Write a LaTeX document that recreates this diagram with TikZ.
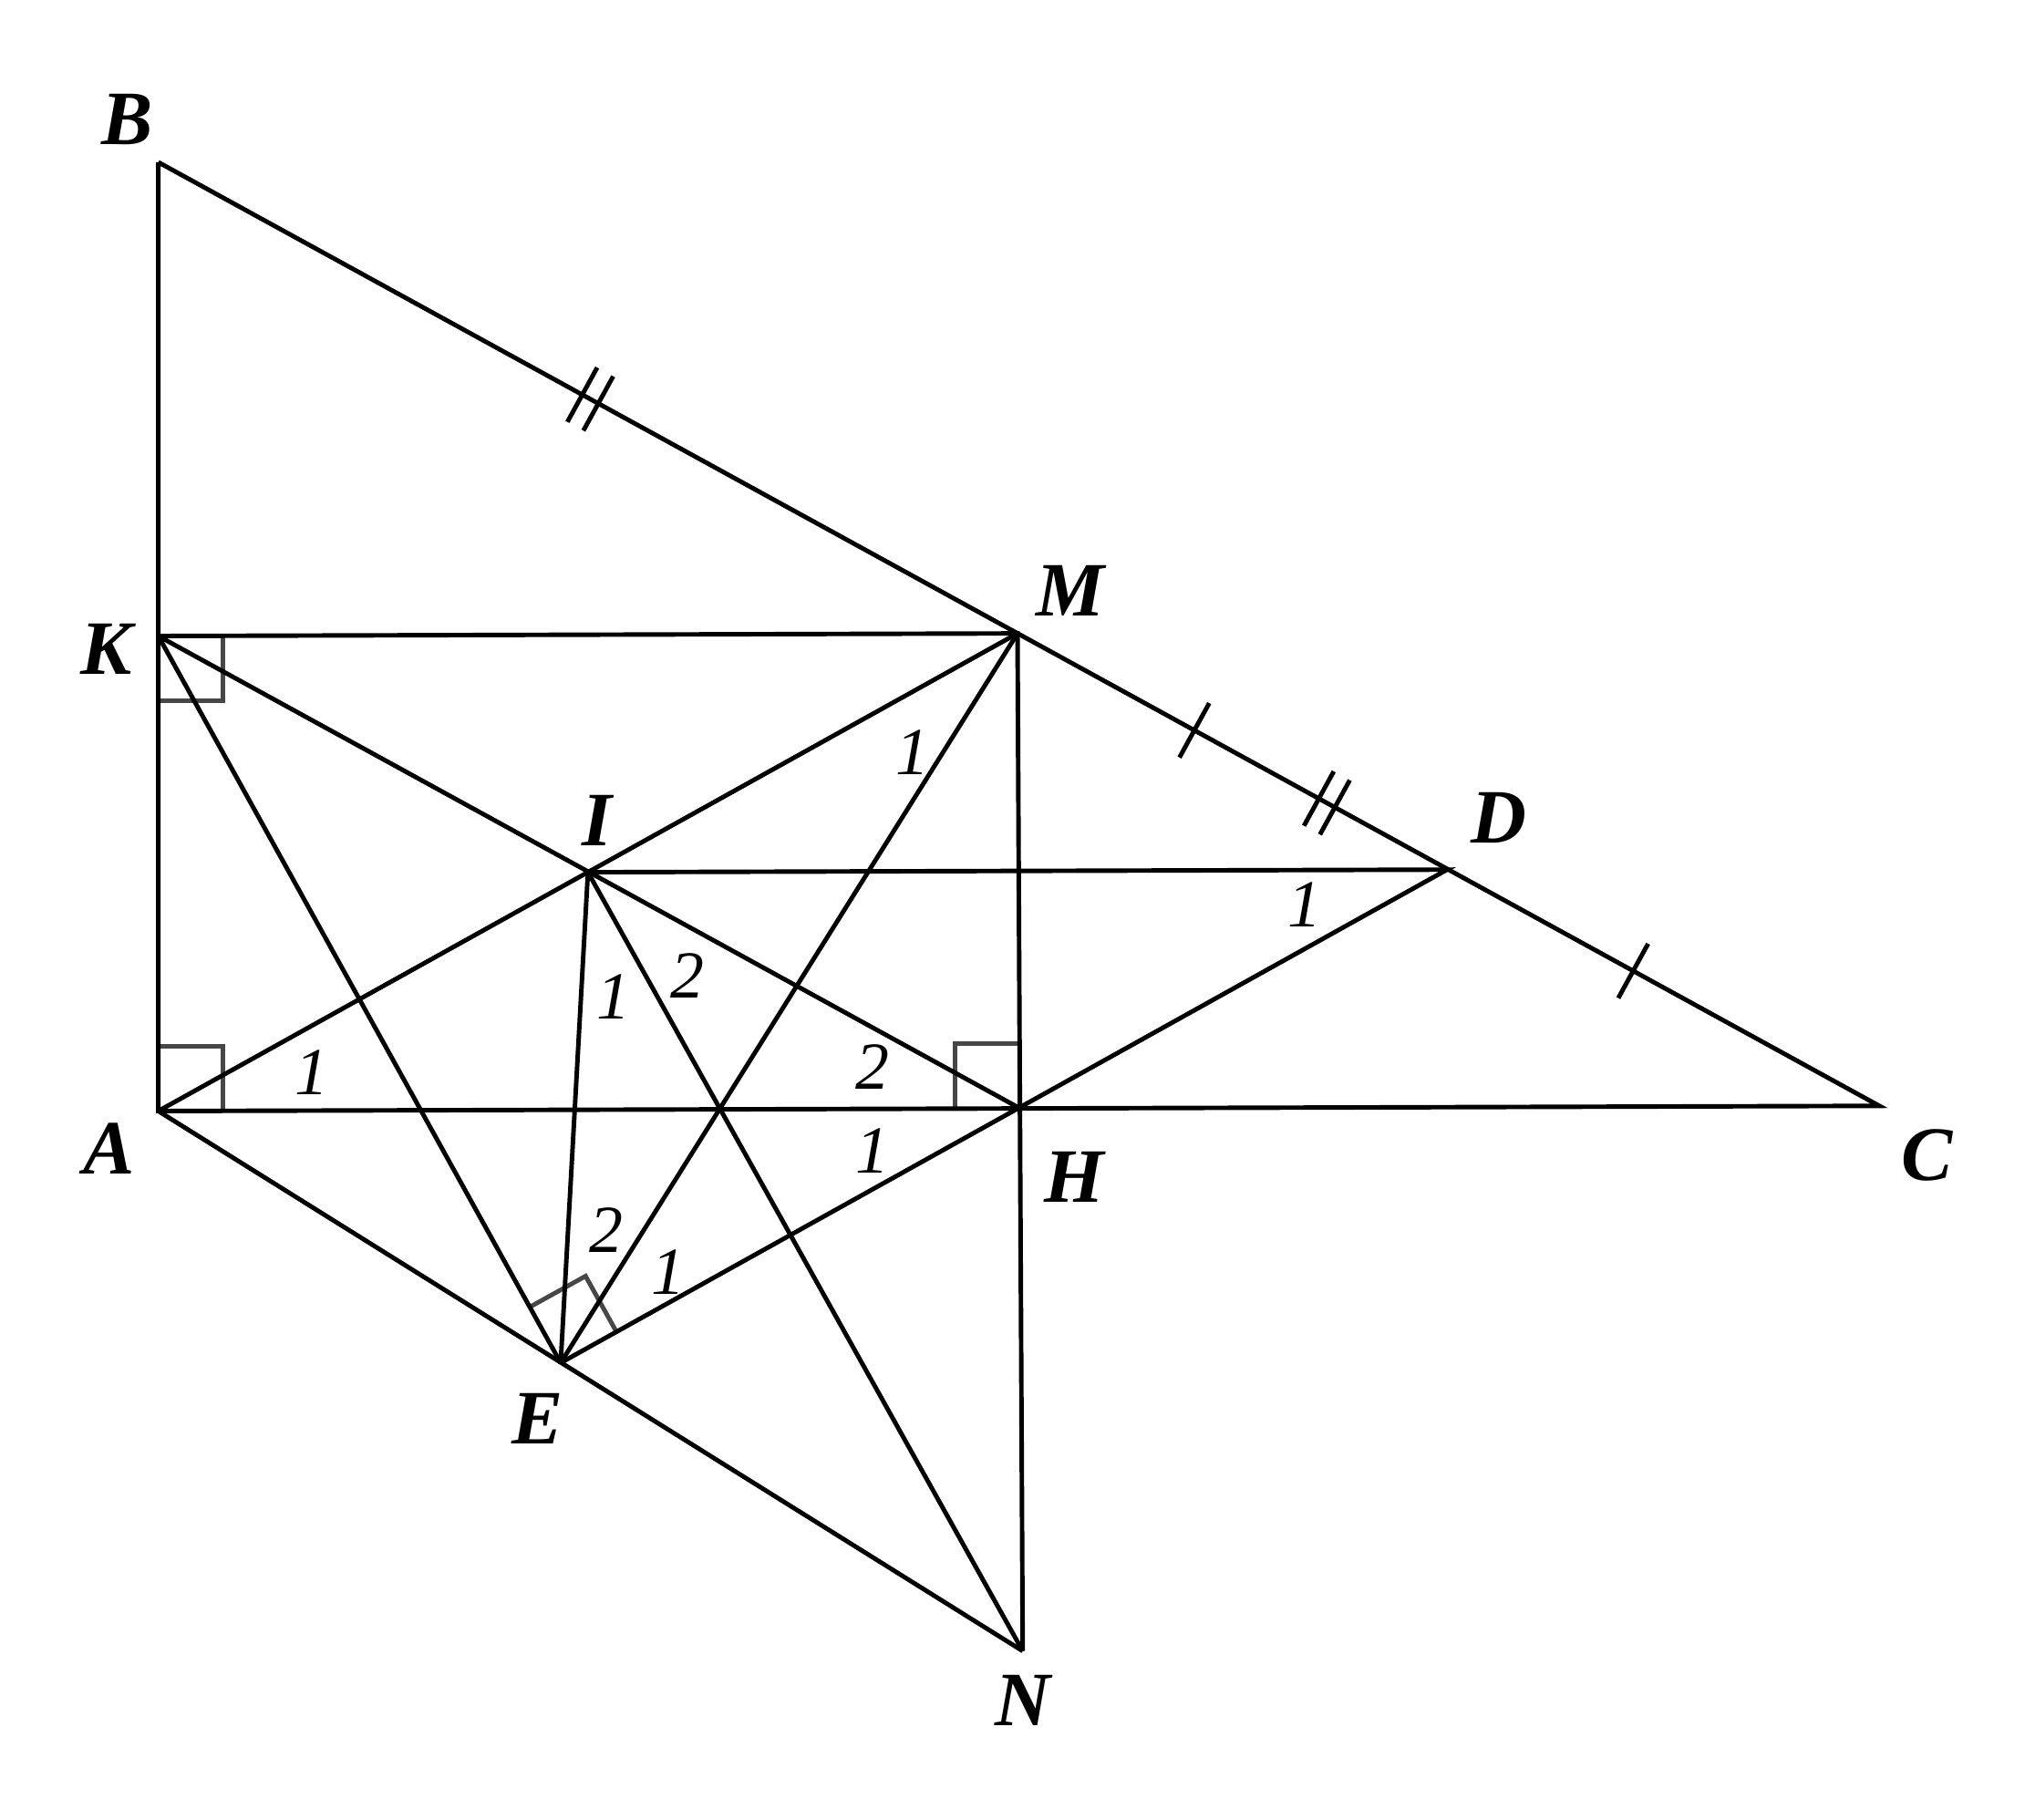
\documentclass[tikz,border=0pt]{standalone}
\usepackage{fontspec}
\setmainfont{Liberation Serif}
\usetikzlibrary{calc}

\tikzset{
  ptlabel/.style={font=\fontsize{24}{24}\selectfont\bfseries\itshape, inner sep=0pt},
  anglabel/.style={font=\fontsize{21}{21}\selectfont\itshape, inner sep=0pt},
  seg/.style={line width=1.4pt},
  rightmark/.style={line width=1.4pt, draw=black!72},
  tickmark/.style={line width=1.4pt}
}

\begin{document}
\begin{tikzpicture}[x=0.014235cm, y=-0.014235cm]
  \useasboundingbox (0,0) rectangle (1568,1402);
  % Points
  \coordinate (B) at (122,125);
  \coordinate (K) at (122,490);
  \coordinate (A) at (122,856);
  \coordinate (M) at (784,488);
  \coordinate (I) at (453,672);
  \coordinate (D) at (1115,670);
  \coordinate (H) at (786,854);
  \coordinate (C) at (1448,852);
  \coordinate (E) at (432,1050);
  \coordinate (N) at (788,1272);
  % Right angle marks
  \draw[rightmark] ($(K)+(0,50)$) -- ($(K)+(50,50)$) -- ($(K)+(50,0)$);
  \draw[rightmark] ($(A)+(0,-50)$) -- ($(A)+(50,-50)$) -- ($(A)+(50,0)$);
  \draw[rightmark] ($(H)+(-50,0)$) -- ($(H)+(-50,-50)$) -- ($(H)+(0,-50)$);
  \draw[rightmark] ($(E)!0.7cm!(K)$) -- ($($(E)!0.7cm!(K)$)+($(E)!0.7cm!(H)$)-(E)$) -- ($(E)!0.7cm!(H)$);
  % Segments
  \draw[seg] (B) -- (A) -- (C) -- (B);
  \draw[seg] (K) -- (M) -- (N);
  \draw[seg] (K) -- (H);
  \draw[seg] (A) -- (M);
  \draw[seg] (I) -- (D) -- (E);
  \draw[seg] (K) -- (E);
  \draw[seg] (I) -- (E);
  \draw[seg] (M) -- (E);
  \draw[seg] (I) -- (N);
  \draw[seg] (A) -- (N);
  % Equal segment ticks
  \foreach \t/\s in {0.251/-0.1, 0.251/0.1, 0.679/-0.1, 0.679/0.1, 0.602/0, 0.857/0} {
    \coordinate (tk) at ($($(B)!\t!(C)$)!\s cm!(C)$);
    \draw[tickmark] ($(tk)!0.34cm!90:(C)$) -- ($(tk)!0.34cm!-90:(C)$);
  }
  % Labels
  \node[ptlabel] (lB) at (98,92) {B};
  \node[ptlabel] (lK) at (82,500) {K};
  \node[ptlabel] (lA) at (84,885) {A};
  \node[ptlabel] (lM) at (825,455) {M};
  \node[ptlabel] (lI) at (460,632) {I};
  \node[ptlabel] (lD) at (1155,630) {D};
  \node[ptlabel] (lH) at (828,907) {H};
  \node[ptlabel] (lC) at (1485,890) {C};
  \node[ptlabel] (lE) at (414,1093) {E};
  \node[ptlabel] (lN) at (788,1310) {N};
  % Angle numbers
  \node[anglabel] (aA) at (240,826) {1};
  \node[anglabel] (aM) at (703,580) {1};
  \node[anglabel] (aD) at (1005,697) {1};
  \node[anglabel] (aIa) at (473,768) {1};
  \node[anglabel] (aIb) at (530,752) {2};
  \node[anglabel] (aHa) at (672,822) {2};
  \node[anglabel] (aHb) at (672,887) {1};
  \node[anglabel] (aEa) at (467,948) {2};
  \node[anglabel] (aEb) at (515,980) {1};
\end{tikzpicture}
\end{document}
